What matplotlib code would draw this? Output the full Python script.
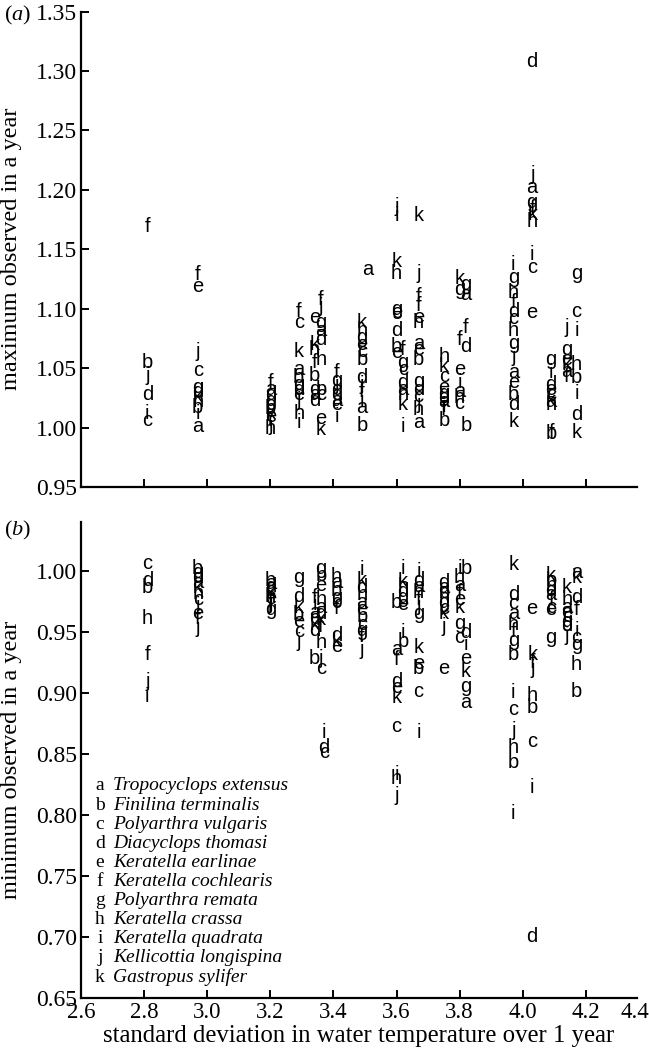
import matplotlib
matplotlib.use("Agg")
import matplotlib.pyplot as plt
import numpy as np

# ---------------- data ----------------
species_codes = list("abcdefghijk")
species_names = ["Tropocyclops extensus", "Finilina terminalis", "Polyarthra vulgaris",
                 "Diacyclops thomasi", "Keratella earlinae", "Keratella cochlearis",
                 "Polyarthra remata", "Keratella crassa", "Keratella quadrata",
                 "Kellicottia longispina", "Gastropus sylifer"]

# panel (a): maximum observed in a year (one entry per lake column)
max_sd = [2.81, 2.97, 3.20, 3.29, 3.34, 3.36, 3.41, 3.49, 3.51, 3.60, 3.62, 3.67,
          3.75, 3.80, 3.82, 3.97, 4.03, 4.09, 4.14, 4.17]
max_species = ["fbjdic", "fejcgdkhbia", "fadgcbkeijh", "fckabgdejhi", "ekhfbgad",
               "fjgadhbcek", "fgjcdaei", "khgecbdjfiab", "a", "jikhgedbe", "fgcdahki",
               "kjffehaebgdcjha", "hkcegdaifb", "kgfeiahc", "gafdb", "ighfdchgjaebdk",
               "djagfkhice", "gideckahfb", "jgekaf", "gcihbidk"]
max_values = [
    [1.169, 1.055, 1.044, 1.028, 1.012, 1.006],
    [1.129, 1.119, 1.064, 1.048, 1.034, 1.030, 1.026, 1.022, 1.017, 1.012, 1.001],
    [1.038, 1.032, 1.028, 1.023, 1.019, 1.016, 1.012, 1.009, 1.006, 1.002, 0.999],
    [1.098, 1.088, 1.064, 1.049, 1.042, 1.036, 1.032, 1.028, 1.023, 1.012, 1.004],
    [1.093, 1.070, 1.066, 1.055, 1.044, 1.032, 1.028, 1.023],
    [1.108, 1.102, 1.088, 1.082, 1.074, 1.057, 1.032, 1.028, 1.008, 0.998],
    [1.046, 1.040, 1.036, 1.032, 1.028, 1.023, 1.019, 1.009],
    [1.088, 1.082, 1.076, 1.070, 1.064, 1.057, 1.042, 1.036, 1.030, 1.023, 1.017, 1.002],
    [1.133],
    [1.186, 1.178, 1.140, 1.130, 1.099, 1.097, 1.082, 1.068, 1.063],
    [1.066, 1.055, 1.049, 1.038, 1.032, 1.028, 1.019, 1.001],
    [1.178, 1.130, 1.110, 1.103, 1.093, 1.088, 1.071, 1.066, 1.057, 1.039, 1.032, 1.026,
     1.020, 1.015, 1.004],
    [1.060, 1.051, 1.043, 1.034, 1.029, 1.025, 1.022, 1.018, 1.015, 1.006],
    [1.125, 1.116, 1.074, 1.049, 1.038, 1.030, 1.025, 1.020],
    [1.120, 1.112, 1.084, 1.068, 1.002],
    [1.137, 1.126, 1.114, 1.105, 1.098, 1.092, 1.082, 1.071, 1.060, 1.046, 1.038, 1.028,
     1.019, 1.005],
    [1.308, 1.213, 1.202, 1.189, 1.184, 1.179, 1.173, 1.146, 1.135, 1.097],
    [1.057, 1.046, 1.036, 1.032, 1.028, 1.023, 1.022, 1.019, 0.996, 0.995],
    [1.084, 1.066, 1.057, 1.053, 1.047, 1.043],
    [1.130, 1.098, 1.082, 1.053, 1.042, 1.029, 1.011, 0.996],
]

# panel (b): minimum observed in a year
min_sd = [2.81, 2.97, 3.20, 3.29, 3.34, 3.36, 3.37, 3.41, 3.49, 3.60, 3.62, 3.67,
          3.75, 3.80, 3.82, 3.97, 4.03, 4.09, 4.14, 4.17]
min_species = ["cdbhfji", "bgdakhciefj", "badckhefjig", "gdkbecj", "fiaekdb",
               "gbehadkfhjc", "idc", "habgcfdke", "ikdhaebcgfj", "bafdekcihj",
               "ikhdgeib", "idahfjgkebci", "dabhgckje", "ihafekgc", "bdiekga",
               "kdcahfgbicjhbi", "ekfjhbcid", "kbhdafceg", "khaecgdj", "akdficghb"]
min_values = [
    [1.006, 0.992, 0.986, 0.961, 0.931, 0.909, 0.897],
    [1.002, 0.998, 0.994, 0.990, 0.986, 0.981, 0.976, 0.971, 0.965, 0.961, 0.953],
    [0.992, 0.989, 0.987, 0.984, 0.982, 0.979, 0.977, 0.974, 0.973, 0.970, 0.968],
    [0.994, 0.979, 0.970, 0.964, 0.958, 0.950, 0.942],
    [0.978, 0.972, 0.966, 0.961, 0.956, 0.951, 0.928],
    [1.002, 0.996, 0.988, 0.976, 0.970, 0.965, 0.960, 0.954, 0.941, 0.928, 0.920],
    [0.867, 0.855, 0.851],
    [0.995, 0.990, 0.984, 0.978, 0.974, 0.969, 0.947, 0.942, 0.938],
    [1.001, 0.992, 0.986, 0.980, 0.974, 0.968, 0.962, 0.956, 0.951, 0.946, 0.935],
    [0.974, 0.935, 0.927, 0.909, 0.904, 0.896, 0.872, 0.833, 0.830, 0.816],
    [1.002, 0.991, 0.987, 0.983, 0.978, 0.972, 0.949, 0.942],
    [0.999, 0.992, 0.987, 0.982, 0.976, 0.971, 0.965, 0.937, 0.924, 0.920, 0.901, 0.867],
    [0.990, 0.986, 0.982, 0.978, 0.974, 0.969, 0.965, 0.954, 0.920],
    [1.002, 0.994, 0.988, 0.982, 0.976, 0.970, 0.957, 0.945],
    [1.002, 0.949, 0.939, 0.928, 0.917, 0.905, 0.892],
    [1.005, 0.980, 0.973, 0.965, 0.956, 0.950, 0.943, 0.931, 0.900, 0.886, 0.869, 0.855,
     0.843, 0.801],
    [0.969, 0.931, 0.925, 0.920, 0.898, 0.888, 0.860, 0.822, 0.700],
    [0.996, 0.992, 0.988, 0.984, 0.980, 0.976, 0.970, 0.968, 0.945],
    [0.986, 0.976, 0.970, 0.966, 0.962, 0.958, 0.955, 0.947],
    [0.998, 0.994, 0.978, 0.968, 0.951, 0.945, 0.939, 0.923, 0.901],
]

x_ticks = [2.6, 2.8, 3.0, 3.2, 3.4, 3.6, 3.8, 4.0, 4.2, 4.4]
max_ticks = [0.95, 1.00, 1.05, 1.10, 1.15, 1.20, 1.25, 1.30, 1.35]
min_ticks = [0.65, 0.70, 0.75, 0.80, 0.85, 0.90, 0.95, 1.00]

# ---------------- style ----------------
plt.rcParams["font.family"] = ["Liberation Serif", "DejaVu Serif"]
plt.rcParams["mathtext.fontset"] = "custom"
plt.rcParams["mathtext.rm"] = "Liberation Serif"
plt.rcParams["mathtext.it"] = "Liberation Serif:italic"

W, H = 649, 1053
fig = plt.figure(figsize=(W / 100, H / 100), dpi=100)


def rect(l, r, t, b):
    return [l / W, 1 - b / H, (r - l) / W, (b - t) / H]


axA = fig.add_axes(rect(81, 649, 11.5, 487))
axB = fig.add_axes(rect(81, 649, 521.7, 997.7))

letter_font = dict(family=["Liberation Sans", "DejaVu Sans"], fontsize=14.5,
                   ha="center", va="center", color="black")


def draw(ax, sds, species, values):
    for sd, sp, vals in zip(sds, species, values):
        for ch, v in zip(sp, vals):
            ax.text(sd, v, ch, **letter_font)


def style(ax, yticks, ylim, ylabel, show_xlabels):
    ax.set_xlim(2.6, 4.4)
    ax.set_ylim(*ylim)
    for s in ("top", "right"):
        ax.spines[s].set_visible(False)
    for s in ("left", "bottom"):
        ax.spines[s].set_linewidth(1.6)
    ax.spines["bottom"].set_bounds(2.6, 4.362)
    ax.set_xticks(x_ticks)
    ax.set_yticks(yticks)
    ax.set_yticklabels([f"{t:.2f}" for t in yticks], fontsize=17)
    if show_xlabels:
        ax.set_xticklabels([f"{t:.1f}" for t in x_ticks], fontsize=16.5)
        lbls = ax.get_xticklabels()
        lbls[-1].set_horizontalalignment("right")
    else:
        ax.set_xticklabels([])
    ax.tick_params(direction="in", length=6, width=1.4, pad=3, top=False, right=False)
    ax.xaxis.get_major_ticks()[-1].tick1line.set_visible(False)
    ax.set_ylabel(ylabel, fontsize=17.5)


draw(axA, max_sd, max_species, max_values)
draw(axB, min_sd, min_species, min_values)
style(axA, max_ticks, (0.95, 1.35), "maximum observed in a year", False)
style(axB, min_ticks, (0.65, 1.04), "minimum observed in a year", True)
axB.set_xlabel("standard deviation in water temperature over 1 year", fontsize=17.8)
axB.xaxis.set_label_coords(0.488, -0.058)
axA.yaxis.set_label_coords(-0.104, 0.5)
axB.yaxis.set_label_coords(-0.104, 0.5)

fig.text(4 / W, 1 - 15 / H, r"($\mathit{a}$)", fontsize=16, ha="left", va="center")
fig.text(4 / W, 1 - 530 / H, r"($\mathit{b}$)", fontsize=16, ha="left", va="center")

# species key
for i, (code, name) in enumerate(zip(species_codes, species_names)):
    y = 1 - (786 + i * 19.1) / H
    fig.text(100 / W, y, code, fontsize=14, ha="center", va="center")
    fig.text(113 / W, y, name, fontsize=14, style="italic", ha="left", va="center")

fig.savefig("out.png", dpi=100)
